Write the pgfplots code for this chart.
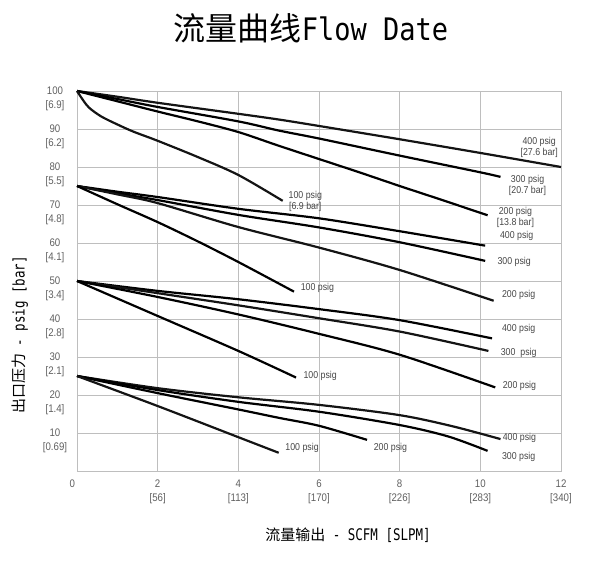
\documentclass[border=0pt]{standalone}
\usepackage{pgfplots}
\pgfplotsset{compat=1.18}
\usepackage{fontspec}
\setmainfont{Liberation Sans}[FakeStretch=0.88]
\newfontfamily\cjk{Noto Sans CJK SC}
\newfontfamily\mono{DejaVu Sans Mono}[FakeStretch=0.78]
\newfontfamily\titlemono{DejaVu Sans Mono}[FakeStretch=0.87]
\definecolor{curve}{RGB}{20,20,20}
\definecolor{ticktext}{RGB}{95,95,95}
\definecolor{labeltext}{RGB}{70,70,70}
\definecolor{gridgray}{RGB}{190,190,190}

\begin{document}
\begin{tikzpicture}
\useasboundingbox (0,0) rectangle (597pt,-565pt);

% title and axis labels
\node at (311pt,-28pt) {\cjk\fontsize{32}{32}\selectfont 流量曲线\titlemono\fontsize{31}{31}\selectfont Flow Date};
\node at (348pt,-535pt) {\cjk\fontsize{15}{15}\selectfont 流量输出\mono\fontsize{16}{16}\selectfont\ - SCFM [SLPM]};
\node[rotate=90] at (20pt,-335pt) {\cjk\fontsize{15}{15}\selectfont 出口压力\mono\fontsize{16}{16}\selectfont\ - psig [bar]};

\begin{axis}[
    at={(77pt,-471pt)}, anchor=south west,
    width=484pt, height=380pt, scale only axis,
    xmin=0, xmax=12, ymin=0, ymax=100,
    xtick={0,2,...,12}, ytick={0,10,...,100},
    xticklabels={\makebox[0pt][r]{0\hspace{2pt}}, 2\\{}[56], 4\\{}[113], 6\\{}[170], 8\\{}[226], 10\\{}[283], 12\\{}[340]},
    yticklabels={{}, 10\\{}[0.69], 20\\{}[1.4], 30\\{}[2.1], 40\\{}[2.8], 50\\{}[3.4], 60\\{}[4.1], 70\\{}[4.8], 80\\{}[5.5], 90\\{}[6.2], 100\\{}[6.9]},
    xticklabel style={align=center, font=\fontsize{11}{14}\selectfont, text=ticktext, yshift=-5pt},
    yticklabel style={align=center, font=\fontsize{11}{14.5}\selectfont, text=ticktext, anchor=north, xshift=-22pt, yshift=8pt},
    major tick length=0pt,
    grid=major,
    grid style={gridgray, line width=0.8pt},
    axis line style={gridgray, line width=0.8pt},
    cycle list={{curve, solid, no markers}},
    every axis plot/.append style={line width=2.2pt, smooth},
    clip=false,
]

% inlet 100 psig [6.9 bar]
\addplot coordinates {(0,100) (1,98.5) (2,96.9) (4,94) (5,92.5) (6,90.8) (8,87.3) (10,83.7) (12,80)};
\addplot coordinates {(0,100) (1,97.9) (2,95.8) (4,92) (5,89.6) (6,87.5) (8,83) (10,78.6) (10.5,77.4)};
\addplot coordinates {(0,100) (1,97.3) (2,94.6) (3,92) (4,89.2) (5,85.6) (6,82.1) (7,78.6) (8,75) (9,71.5) (10.18,67.3)};
\addplot coordinates {(0,100) (0.15,97.6) (0.3,95.6) (0.6,93.3) (1,91.2) (1.4,89.3) (2,86.9) (3,82.6) (4,77.9) (5.1,71.1)};

% inlet 75 psig
\addplot coordinates {(0,75) (1,73.5) (2,72.1) (4,69) (6,66.5) (8,63.1) (10.12,59.3)};
\addplot coordinates {(0,75) (1,73.1) (2,71.3) (4,67.4) (6,64.1) (8,60.2) (10.12,55.3)};
\addplot coordinates {(0,75) (1,72.8) (2,70.5) (4,64.2) (6,58.8) (8,52.9) (10.33,44.8)};
\addplot coordinates {(0,75) (1,70.2) (2,65.5) (3,60.4) (4,55) (5.38,47.2)};

% inlet 50 psig
\addplot coordinates {(0,50) (2,47.4) (4,45.2) (6,42.6) (8,39.7) (10.29,34.9)};
\addplot coordinates {(0,50) (2,46.8) (4,43.6) (6,40.2) (8,36.7) (10.2,31.6)};
\addplot coordinates {(0,50) (2,45.8) (4,41.2) (6,36.1) (8,30.6) (10.37,22)};
\addplot coordinates {(0,50) (2,40.8) (4,31.6) (5.43,24.6)};

% inlet 25 psig
\addplot coordinates {(0,25) (2,21.8) (4,19.4) (6,17.4) (8,14.7) (9.3,11.8) (10.5,8.4)};
\addplot coordinates {(0,25) (2,21.3) (4,18.2) (6,15.6) (8,12.1) (9.2,9.1) (10.18,5.3)};
\addplot coordinates {(0,25) (2,20.5) (4,16.2) (5,14) (6,11.9) (7.19,8.2)};
\addplot coordinates {(0,25) (2,17.1) (4,8.9) (5,4.8)};

% curve labels
\begin{scope}[every node/.style={text=labeltext, font=\fontsize{10}{11}\selectfont, align=center}]
\node at (axis cs:11.46,85.25) {400 psig\\{}[27.6 bar]};
\node at (axis cs:11.17,75.05) {300 psig\\{}[20.7 bar]};
\node at (axis cs:10.87,66.8) {200 psig\\{}[13.8 bar]};
\node at (axis cs:5.66,71.05) {100 psig\\{}[6.9 bar]};
\node at (axis cs:10.9,61.9) {400 psig};
\node at (axis cs:10.84,55.1) {300 psig};
\node at (axis cs:10.95,46.3) {200 psig};
\node at (axis cs:5.96,48.1) {100 psig};
\node at (axis cs:10.95,37.4) {400 psig};
\node at (axis cs:10.95,31.1) {300\ \ psig};
\node at (axis cs:10.97,22.5) {200 psig};
\node at (axis cs:6.03,25) {100 psig};
\node at (axis cs:10.97,8.6) {400 psig};
\node at (axis cs:10.95,3.8) {300 psig};
\node at (axis cs:7.77,6) {200 psig};
\node at (axis cs:5.58,6) {100 psig};
\end{scope}
\end{axis}
\end{tikzpicture}
\end{document}
